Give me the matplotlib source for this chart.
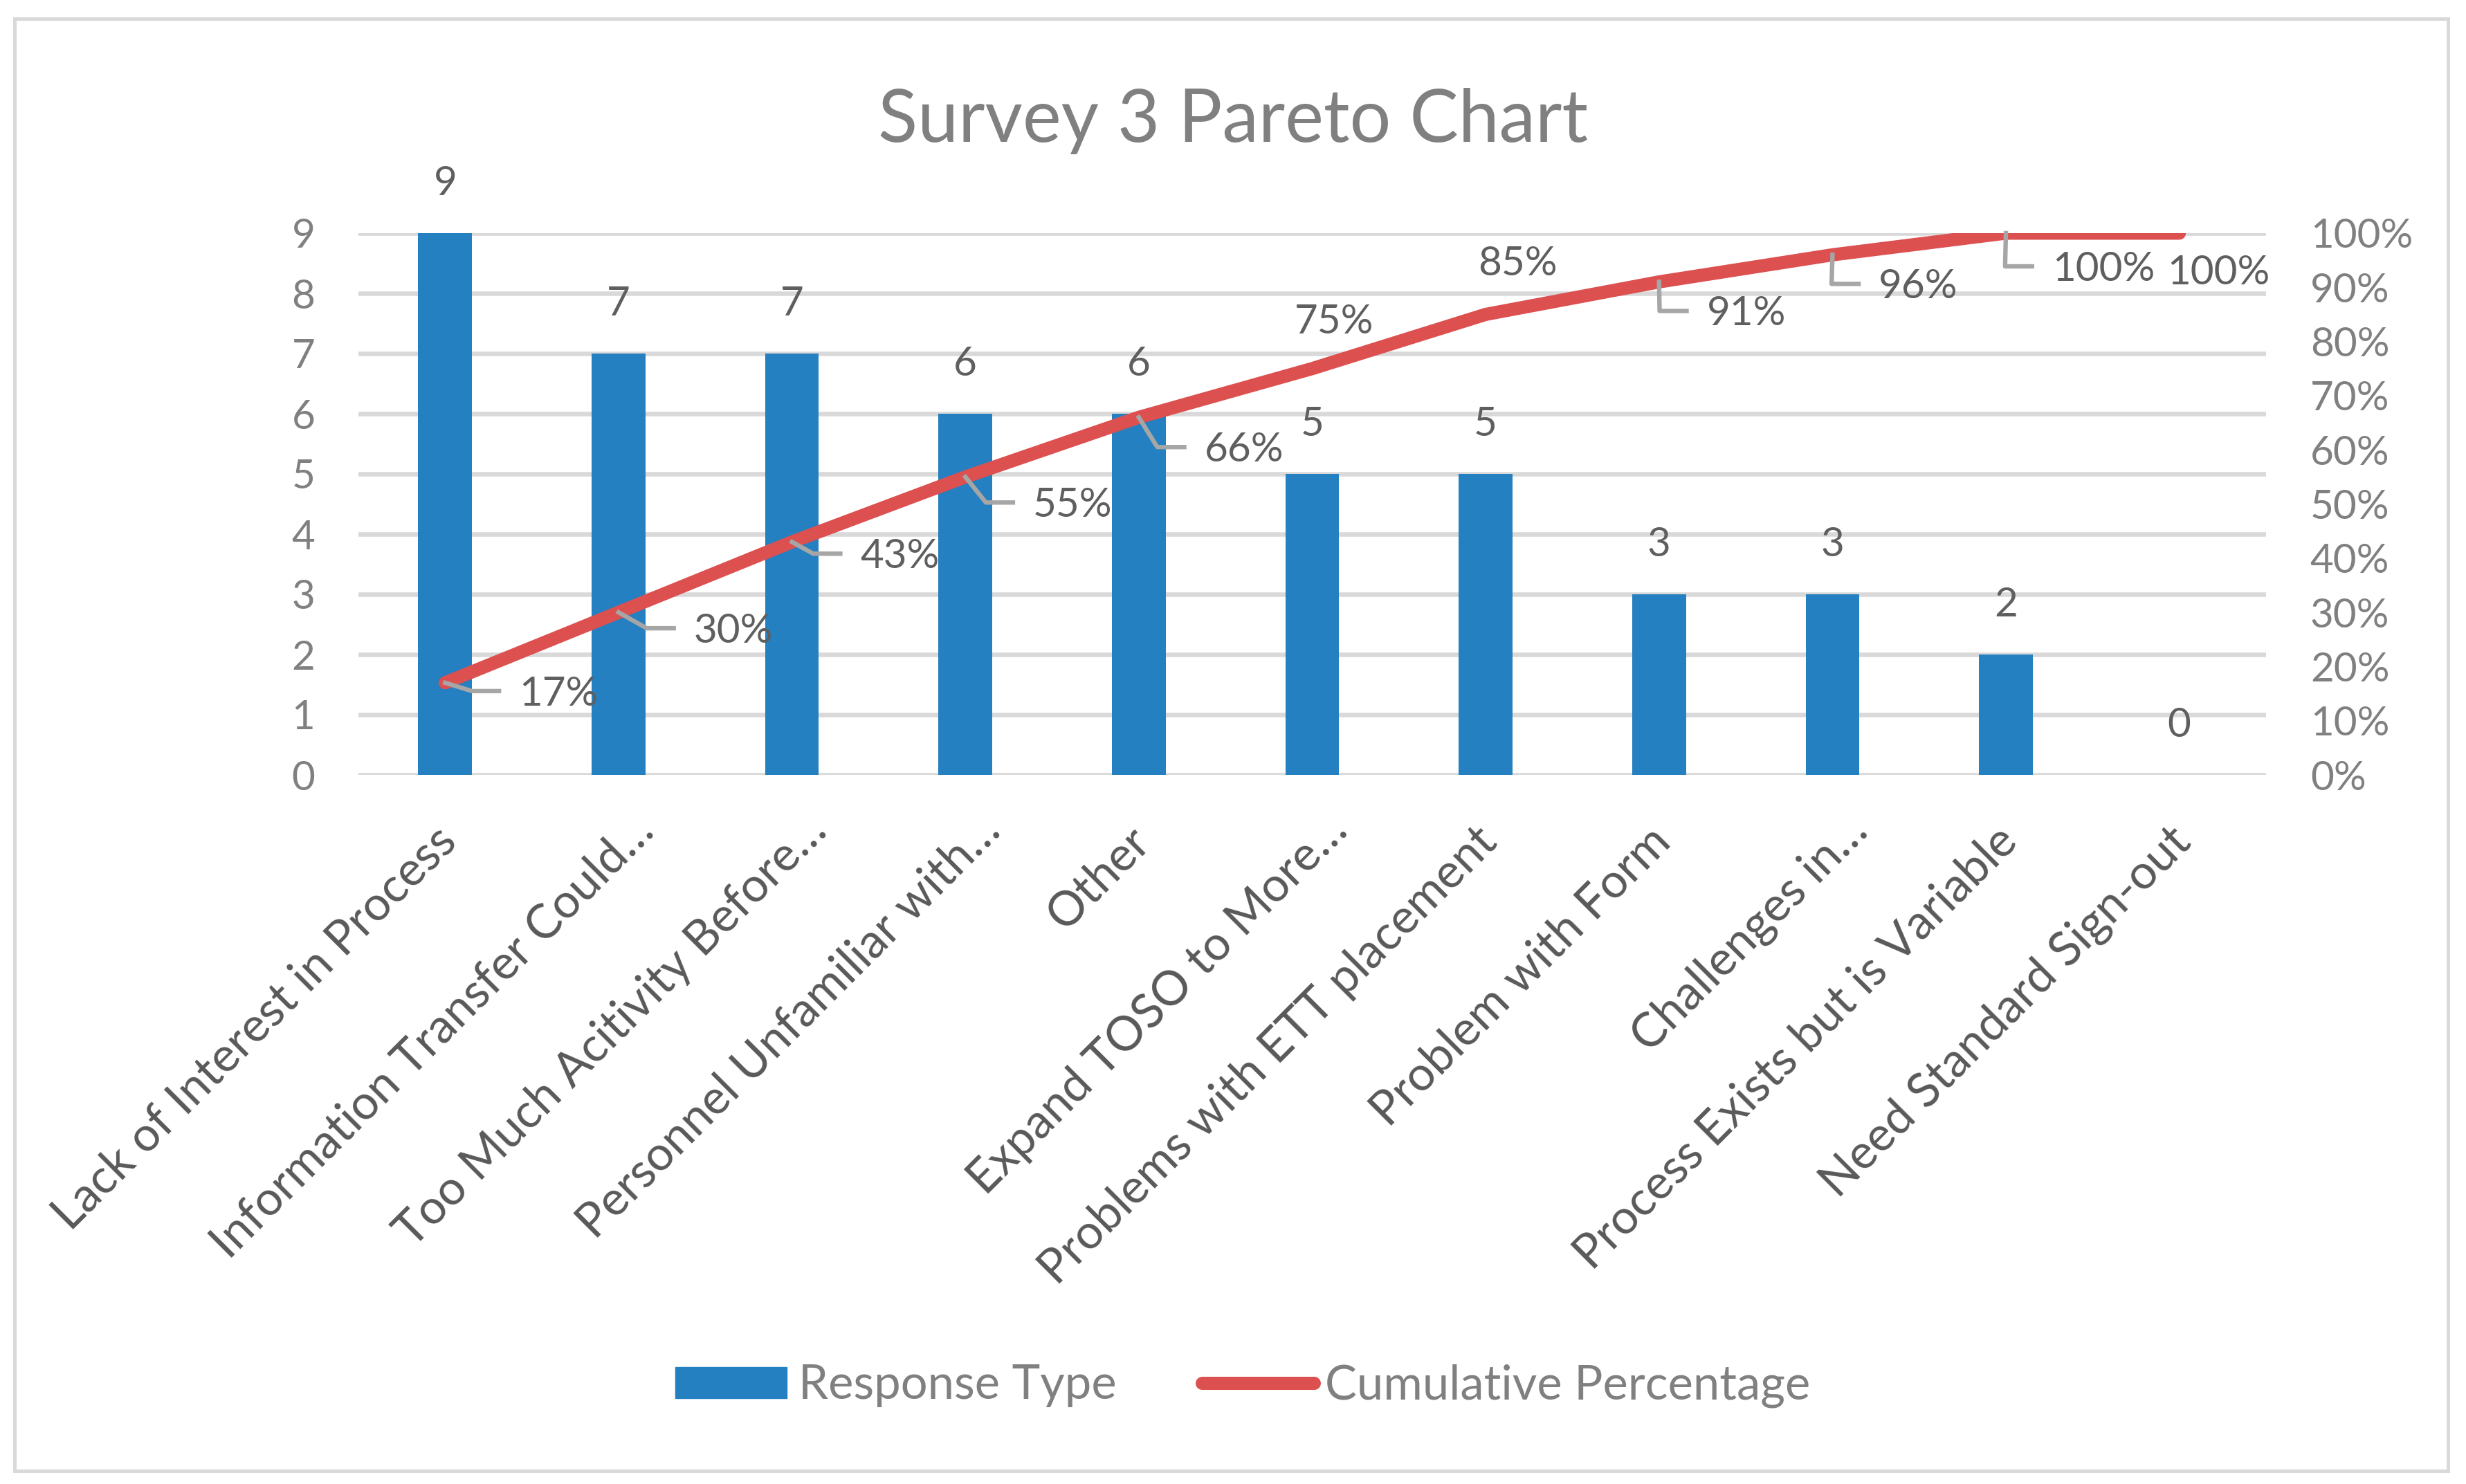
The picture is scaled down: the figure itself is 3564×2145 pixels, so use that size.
import matplotlib
matplotlib.use("Agg")
import matplotlib.pyplot as plt
from matplotlib.patches import Patch, Rectangle
from matplotlib.lines import Line2D
from matplotlib.transforms import ScaledTranslation
from matplotlib.ticker import FuncFormatter

plt.rcParams['font.family'] = ['Lato', 'DejaVu Sans']

# data
categories = ['Lack of Interest in Process', 'Information Transfer Could\u2026',
              'Too Much Acitivity Before\u2026', 'Personnel Unfamiliar with\u2026',
              'Other', 'Expand TOSO to More\u2026', 'Problems with ETT placement',
              'Problem with Form', 'Challenges in\u2026', 'Process Exists but is Variable',
              'Need Standard Sign-out']
counts = [9, 7, 7, 6, 6, 5, 5, 3, 3, 2, 0]
cum_pct = [0.17, 0.30, 0.43, 0.55, 0.66, 0.75, 0.85, 0.91, 0.96, 1.00, 1.00]

# label placement (pixels from the point: right, down) and leader flags
pct_offsets = [(164, 12), (166, 23), (156, 17), (155, 37), (152, 43), (32, -72),
               (46, -77), (126, 42), (124, 42), (141, 48), (57, 53)]
has_leader = [1, 1, 1, 1, 1, 0, 0, 1, 1, 1, 0]

BLUE = '#2480C0'
RED = '#DD5050'
W, H = 3564, 2145

fig = plt.figure(figsize=(W / 100, H / 100), dpi=100)
ax = fig.add_axes([518 / W, 1 - 1120 / H, (3275 - 518) / W, 783 / H])
x = list(range(len(categories)))

ax.bar(x, counts, width=0.31, color=BLUE, zorder=2)
ax.set_xlim(-0.5, len(categories) - 0.5)
ax.set_ylim(0, 9)
ax.set_yticks(range(0, 10))
ax.yaxis.grid(True, color='#d9d9d9', lw=4.7)
ax.set_axisbelow(True)
for s in ax.spines.values():
    s.set_visible(False)
ax.tick_params(axis='both', length=0)
ax.tick_params(axis='y', labelsize=42, labelcolor='#808080', pad=45)
ax.set_xticks(x)
ax.set_xticklabels(categories, rotation=45, ha='right', va='center',
                   rotation_mode='anchor', fontsize=49.5, color='#595959')
ax.tick_params(axis='x', pad=62)
# truncated (…) labels sit a little further along in excel
for lab in ax.get_xticklabels():
    if lab.get_text().endswith('\u2026'):
        sh = ScaledTranslation(40 / 100, 16 / 100, fig.dpi_scale_trans)
    else:
        sh = ScaledTranslation(6 / 100, 0, fig.dpi_scale_trans)
    lab.set_transform(lab.get_transform() + sh)

for i, v in enumerate(counts):
    ax.annotate(str(v), (i, v), xytext=(0, 55), textcoords='offset pixels',
                ha='center', va='baseline', fontsize=42, color='#5f5f5f')

ax2 = ax.twinx()
ax2.set_ylim(0, 1)
ax2.set_yticks([i / 10 for i in range(11)])
ax2.yaxis.set_major_formatter(FuncFormatter(lambda v, p: f'{v:.0%}'))
for s in ax2.spines.values():
    s.set_visible(False)
ax2.tick_params(axis='y', length=0, labelsize=42, labelcolor='#808080', pad=46)
ax2.plot(x, cum_pct, color=RED, lw=13.7, solid_capstyle='round',
         solid_joinstyle='round', zorder=3)

texts = []
for i, p in enumerate(cum_pct):
    dx, dy = pct_offsets[i]
    t = ax2.annotate(f'{p:.0%}', (i, p), xytext=(dx, -dy - 21),
                     textcoords='offset pixels', ha='center', va='baseline',
                     fontsize=42, color='#5f5f5f', zorder=5)
    texts.append(t)

fig.canvas.draw()
r = fig.canvas.get_renderer()
inv = fig.transFigure.inverted()
for i, p in enumerate(cum_pct):
    if not has_leader[i]:
        continue
    px, py = ax2.transData.transform((i, p))
    left = texts[i].get_window_extent(r).x0
    cy = py - pct_offsets[i][1]
    pts = inv.transform([(px, py), (left - 68, cy), (left - 29, cy)])
    fig.add_artist(Line2D(pts[:, 0], pts[:, 1], color='#a6a6a6', lw=4.6,
                          transform=fig.transFigure, zorder=6))

fig.text(0.5, 1 - 205 / H, 'Survey 3 Pareto Chart', ha='center', va='baseline',
         fontsize=76, color='#808080')

handles = [Patch(color=BLUE),
           Line2D([0], [0], color=RED, lw=13.7, solid_capstyle='round')]
fig.legend(handles, ['Response Type', 'Cumulative Percentage'], loc='center',
           bbox_to_anchor=(0.504, 1 - 2003 / H), ncol=2, frameon=False,
           fontsize=49.5, handlelength=2.35, handleheight=0.63, handletextpad=0.24,
           columnspacing=1.8, labelcolor='#808080')

fig.patches.append(Rectangle((21 / W, 1 - 2126 / H), (3538 - 21) / W, (2126 - 27) / H,
                             transform=fig.transFigure, fill=False,
                             ec='#d9d9d9', lw=3.6))

fig.savefig('out.png', dpi=100, facecolor='white')
